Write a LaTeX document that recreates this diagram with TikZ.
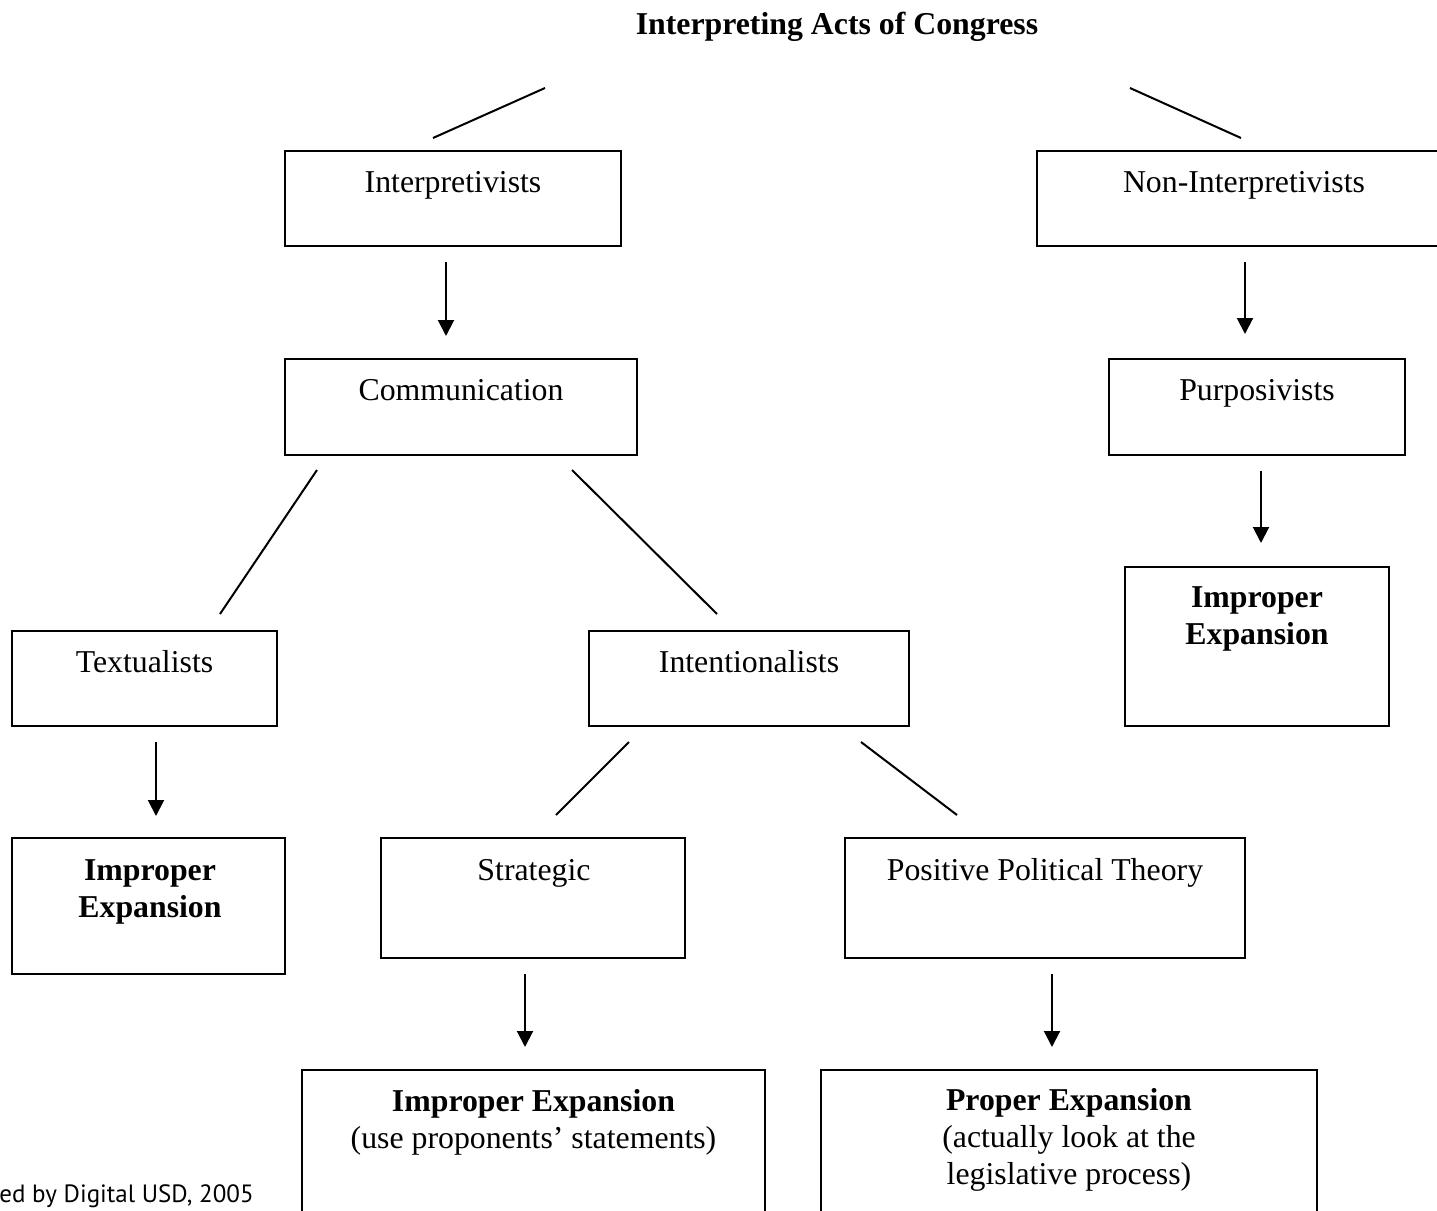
\documentclass[tikz,border=0pt]{standalone}
\usepackage{fontspec}
\setmainfont{Liberation Serif}
\newfontfamily\footfont{PT Sans}
\usetikzlibrary{arrows.meta,fit}
\begin{document}
\begin{tikzpicture}[x=0.5pt,y=-0.5pt,
  box/.style={draw,line width=1.3pt,inner sep=0pt},
  txt/.style={font=\fontsize{15.9}{18.5}\selectfont,inner sep=0pt,anchor=base,align=center},
  btxt/.style={txt,font=\fontsize{15.9}{18.5}\selectfont\bfseries},
  conn/.style={line width=1pt},
  arr/.style={line width=1pt,-{Triangle[width=8pt,length=8pt]}}]
\useasboundingbox (0,0) rectangle (1437,1211);
\clip (0,0) rectangle (1437,1211);

% title
\node[btxt] (title) at (837,34) {Interpreting Acts of Congress};

% boxes
\node[box,fit={(285,151) (621,246)}] (interp) {};
\node[box,fit={(1037,151) (1451,246)}] (nonint) {};
\node[box,fit={(285,359) (637,455)}] (comm) {};
\node[box,fit={(1109,359) (1405,455)}] (purp) {};
\node[box,fit={(1125,567) (1389,726)}] (impR) {};
\node[box,fit={(12,631) (277,726)}] (textu) {};
\node[box,fit={(589,631) (909,726)}] (inten) {};
\node[box,fit={(12,838) (285,974)}] (impL) {};
\node[box,fit={(381,838) (685,958)}] (strat) {};
\node[box,fit={(845,838) (1245,958)}] (ppt) {};
\node[box,fit={(302,1070) (765,1240)}] (impB) {};
\node[box,fit={(821,1070) (1317,1240)}] (propB) {};

% texts (multi-line nodes: base = last line)
\node[txt] (interpT) at (453,192) {Interpretivists};
\node[txt] (nonintT) at (1244,192) {Non-Interpretivists};
\node[txt] (commT) at (461,400) {Communication};
\node[txt] (purpT) at (1257,400) {Purposivists};
\node[btxt] (impRT) at (1257,644) {Improper\\Expansion};
\node[txt] (textuT) at (144.5,672) {Textualists};
\node[txt] (intenT) at (749,672) {Intentionalists};
\node[btxt] (impLT) at (150,917) {Improper\\Expansion};
\node[txt] (stratT) at (534,880) {Strategic};
\node[txt] (pptT) at (1045,880) {Positive Political Theory};
\node[txt] (impBT) at (533.5,1148) {\textbf{Improper Expansion}\\(use proponents’ statements)};
\node[txt] (propBT) at (1069,1184) {\textbf{Proper Expansion}\\(actually look at the\\legislative process)};

% footer
\node[anchor=base west,inner sep=0pt,font=\footfont\fontsize{12.5}{14}\selectfont] (foot) at (-1,1202) {ed by Digital USD, 2005};

% connector end points
\coordinate (l1a) at (433,138); \coordinate (l1b) at (545,88);
\coordinate (l2a) at (1130,88); \coordinate (l2b) at (1241,138);
\coordinate (l3a) at (317,470); \coordinate (l3b) at (220,614);
\coordinate (l4a) at (572,470); \coordinate (l4b) at (717,614);
\coordinate (l5a) at (629,742); \coordinate (l5b) at (556,815);
\coordinate (l6a) at (861,742); \coordinate (l6b) at (957,815);
\coordinate (a1a) at (446,262); \coordinate (a1b) at (446,336);
\coordinate (a2a) at (1245,262); \coordinate (a2b) at (1245,334);
\coordinate (a3a) at (1261,471); \coordinate (a3b) at (1261,543);
\coordinate (a4a) at (156,742); \coordinate (a4b) at (156,816);
\coordinate (a5a) at (525,974); \coordinate (a5b) at (525,1047);
\coordinate (a6a) at (1052,974); \coordinate (a6b) at (1052,1047);

\draw[conn] (l1a) -- (l1b);
\draw[conn] (l2a) -- (l2b);
\draw[conn] (l3a) -- (l3b);
\draw[conn] (l4a) -- (l4b);
\draw[conn] (l5a) -- (l5b);
\draw[conn] (l6a) -- (l6b);
\draw[arr] (a1a) -- (a1b);
\draw[arr] (a2a) -- (a2b);
\draw[arr] (a3a) -- (a3b);
\draw[arr] (a4a) -- (a4b);
\draw[arr] (a5a) -- (a5b);
\draw[arr] (a6a) -- (a6b);
\end{tikzpicture}
\end{document}
